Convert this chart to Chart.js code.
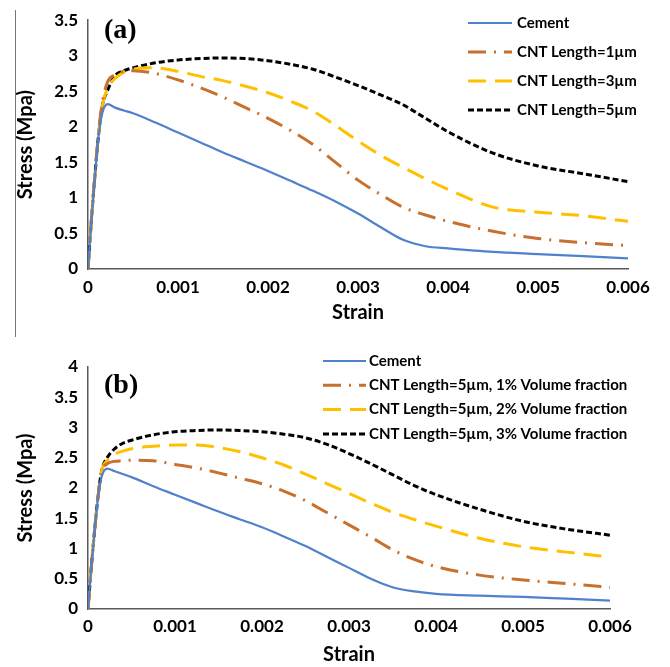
<!DOCTYPE html>
<html>
<head>
<meta charset="utf-8">
<script src="https://cdn.jsdelivr.net/npm/chart.js@4.4.0/dist/chart.umd.min.js"></script>
<style>
  html, body { margin: 0; padding: 0; background: #fff; }
  #wrap { position: relative; width: 670px; height: 667px; }
  #edge { position: absolute; left: 15px; top: 10px; height: 327px; border-left: 1.5px solid #777; }
  canvas { display: block; }
</style>
</head>
<body>
<div id="wrap">
  <canvas id="chartA" width="670" height="333"></canvas>
  <canvas id="chartB" width="670" height="334"></canvas>
  <div id="edge"></div>
</div>
<script>
// strain points shared by every curve
const strain = [0, 0.00004, 0.00008, 0.00012, 0.00016, 0.00022, 0.0003, 0.0004, 0.0005, 0.00075,
  0.001, 0.00125, 0.0015, 0.00175, 0.002, 0.00225, 0.0025, 0.00275, 0.003, 0.00325,
  0.0035, 0.00375, 0.004, 0.0045, 0.005, 0.0055, 0.006];

// (a) CNT length
const cementA = [0, 0.72, 1.35, 1.9, 2.2, 2.32, 2.27, 2.23, 2.19, 2.06,
  1.92, 1.78, 1.64, 1.51, 1.38, 1.24, 1.1, 0.95, 0.78, 0.59,
  0.41, 0.32, 0.29, 0.24, 0.21, 0.18, 0.15];
const len1 = [0, 0.73, 1.37, 1.95, 2.35, 2.64, 2.73, 2.78, 2.79, 2.75,
  2.66, 2.55, 2.42, 2.27, 2.12, 1.95, 1.75, 1.5, 1.25, 1.05,
  0.87, 0.76, 0.67, 0.53, 0.43, 0.37, 0.33];
const len3 = [0, 0.73, 1.36, 1.93, 2.3, 2.55, 2.68, 2.77, 2.81, 2.83,
  2.78, 2.71, 2.65, 2.57, 2.48, 2.36, 2.22, 2.02, 1.8, 1.6,
  1.43, 1.27, 1.12, 0.87, 0.8, 0.75, 0.67];
const len5 = [0, 0.73, 1.36, 1.92, 2.3, 2.52, 2.72, 2.79, 2.83, 2.9,
  2.94, 2.96, 2.97, 2.96, 2.93, 2.88, 2.81, 2.7, 2.58, 2.45,
  2.31, 2.12, 1.93, 1.63, 1.45, 1.34, 1.23];

// (b) volume fraction, length 5 µm
const cementB = [0, 0.72, 1.35, 1.9, 2.2, 2.32, 2.28, 2.23, 2.18, 2.03,
  1.89, 1.75, 1.61, 1.48, 1.35, 1.2, 1.04, 0.86, 0.68, 0.5,
  0.36, 0.29, 0.25, 0.22, 0.2, 0.17, 0.14];
const vol1 = [0, 0.73, 1.36, 1.92, 2.28, 2.4, 2.44, 2.45, 2.46, 2.45,
  2.39, 2.33, 2.25, 2.16, 2.07, 1.95, 1.79, 1.59, 1.39, 1.19,
  0.98, 0.82, 0.7, 0.56, 0.48, 0.42, 0.36];
const vol2 = [0, 0.73, 1.36, 1.92, 2.3, 2.45, 2.55, 2.61, 2.65, 2.69,
  2.71, 2.71, 2.67, 2.6, 2.5, 2.38, 2.23, 2.07, 1.91, 1.75,
  1.6, 1.48, 1.37, 1.17, 1.03, 0.94, 0.86];
const vol3 = [0, 0.73, 1.36, 1.92, 2.3, 2.5, 2.64, 2.74, 2.79, 2.88,
  2.93, 2.95, 2.96, 2.95, 2.93, 2.89, 2.83, 2.72, 2.57, 2.4,
  2.22, 2.04, 1.89, 1.65, 1.45, 1.32, 1.22];

const xTickLabels = ['0', '0.001', '0.002', '0.003', '0.004', '0.005', '0.006'];
const yTickLabelsA = ['0', '0.5', '1', '1.5', '2', '2.5', '3', '3.5'];
const yTickLabelsB = ['0', '0.5', '1', '1.5', '2', '2.5', '3', '3.5', '4'];

const labelsA = ['Cement', 'CNT Length=1µm', 'CNT Length=3µm', 'CNT Length=5µm'];
const labelsB = ['Cement', 'CNT Length=5µm, 1% Volume fraction',
  'CNT Length=5µm, 2% Volume fraction', 'CNT Length=5µm, 3% Volume fraction'];

Chart.defaults.font.family = 'Lato, sans-serif';
Chart.defaults.font.weight = 'bold';
Chart.defaults.color = '#000';

const styles = [
  { color: '#5081CC', width: 2.2, dash: [] },
  { color: '#C8702E', width: 3, dash: [18, 8, 2, 8] },
  { color: '#FFC000', width: 3, dash: [18, 9] },
  { color: '#000000', width: 3, dash: [6, 3] },
];

const toPoints = (ys) => strain.map((x, i) => ({ x: x, y: ys[i] }));

function buildDatasets(labels, series) {
  return series.map((ys, i) => ({
    label: labels[i],
    data: toPoints(ys),
    borderColor: styles[i].color,
    borderWidth: styles[i].width,
    borderDash: styles[i].dash,
    pointRadius: 0,
    fill: false,
    cubicInterpolationMode: 'monotone',
  }));
}

// legend drawn inside the plot plus the (a)/(b) tag
const innerLegend = {
  id: 'innerLegend',
  afterDatasetsDraw(chart, args, opts) {
    const ctx = chart.ctx;
    ctx.save();
    ctx.textBaseline = 'middle';
    chart.data.datasets.forEach((ds, i) => {
      const y = opts.top + i * opts.gap;
      ctx.strokeStyle = ds.borderColor;
      ctx.lineWidth = ds.borderWidth;
      ctx.setLineDash(ds.borderDash || []);
      ctx.beginPath();
      ctx.moveTo(opts.x, y);
      ctx.lineTo(opts.x + opts.len, y);
      ctx.stroke();
      ctx.setLineDash([]);
      ctx.fillStyle = '#000';
      ctx.font = 'bold 15px Lato, sans-serif';
      ctx.fillText(ds.label, opts.x + opts.len + opts.textGap, y);
    });
    ctx.font = 'bold 28px "Liberation Serif", serif';
    ctx.fillText(opts.tag, opts.tagX, opts.tagY);
    ctx.restore();
  },
};

function makeChart(id, datasets, yMax, yLabels, layout, legendOpts) {
  return new Chart(document.getElementById(id), {
    type: 'line',
    data: { datasets: datasets },
    options: {
      responsive: false,
      animation: false,
      layout: { padding: { top: layout.top, right: layout.right, left: 0, bottom: 0 } },
      plugins: {
        legend: { display: false },
        tooltip: { enabled: false },
        innerLegend: legendOpts,
      },
      scales: {
        x: {
          type: 'linear',
          min: 0,
          max: 0.006,
          grid: { display: false, drawTicks: false },
          border: { display: true, color: '#595959', width: 1.5 },
          ticks: {
            stepSize: 0.001,
            autoSkip: false,
            maxRotation: 0,
            padding: layout.xTickPad,
            font: { size: 17, weight: 'bold' },
            callback: (v, i) => xTickLabels[i],
          },
          title: {
            display: true,
            text: 'Strain',
            font: { size: 20, weight: 'bold' },
            padding: { top: 0, bottom: layout.xTitlePad },
          },
          afterFit: (s) => { s.height = layout.xHeight; },
        },
        y: {
          min: 0,
          max: yMax,
          grid: { display: false, drawTicks: false },
          border: { display: true, color: '#595959', width: 1.5 },
          ticks: {
            stepSize: 0.5,
            padding: 10,
            font: { size: 17, weight: 'bold' },
            callback: (v, i) => yLabels[i],
          },
          title: {
            display: true,
            text: 'Stress (Mpa)',
            font: { size: 20, weight: 'bold' },
            padding: { top: 14, bottom: 0 },
          },
          afterFit: (s) => { s.width = 88; },
        },
      },
    },
    plugins: [innerLegend],
  });
}

makeChart('chartA', buildDatasets(labelsA, [cementA, len1, len3, len5]), 3.5, yTickLabelsA,
  { top: 18, right: 42, xHeight: 64, xTickPad: 8, xTitlePad: 8 },
  { x: 468, len: 44, textGap: 5, top: 23, gap: 29, tag: '(a)', tagX: 104, tagY: 31 });

makeChart('chartB', buildDatasets(labelsB, [cementB, vol1, vol2, vol3]), 4, yTickLabelsB,
  { top: 34, right: 60, xHeight: 58, xTickPad: 7, xTitlePad: 0 },
  { x: 323, len: 43, textGap: 3, top: 28, gap: 24.3, tag: '(b)', tagX: 104, tagY: 53 });
</script>
</body>
</html>
